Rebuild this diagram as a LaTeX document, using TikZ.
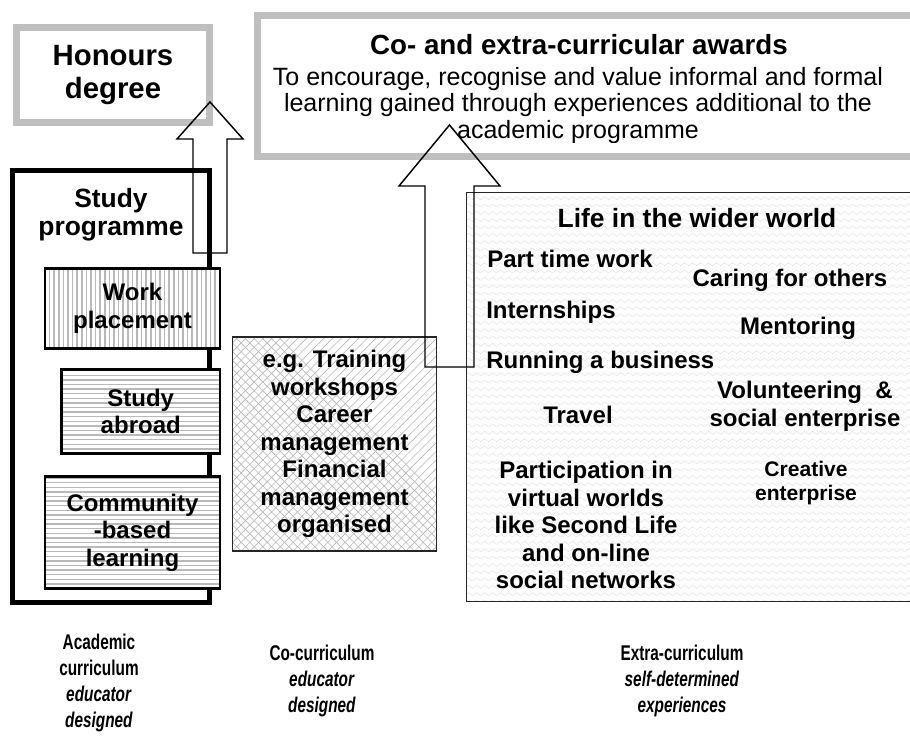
\documentclass[tikz,border=0pt]{standalone}
\usepackage{fontspec}
\setmainfont{Liberation Sans}
\newfontfamily\narrowsans[FakeStretch=0.72]{Liberation Sans}
\usetikzlibrary{decorations.pathmorphing}

\newcommand{\bodyfont}{\fontsize{18}{20.6}\selectfont\bfseries}
\newcommand{\headfont}{\fontsize{19.8}{21}\selectfont\bfseries}
\newcommand{\curricfont}{\narrowsans\fontsize{16}{19.5}\selectfont\bfseries}

\begin{document}
\begin{tikzpicture}[
    x=0.75pt, y=-0.75pt,
    frame/.style={draw=gray!50, line width=5.25pt, inner sep=0pt, align=center},
    progbox/.style={draw=black, line width=3.75pt, inner sep=0pt},
    placebox/.style={draw=black, line width=2pt, fill=white, inner sep=0pt, align=center, font=\bodyfont},
    vstripes/.style={path picture={
        \coordinate (pa) at (path picture bounding box.south west);
        \foreach \i in {0,...,45}
            \draw[gray!55, line width=1.1pt] ([xshift=\i*3.45pt]pa) -- ++(0pt,200pt);
    }},
    hstripes/.style={path picture={
        \coordinate (pa) at (path picture bounding box.south west);
        \foreach \i in {0,...,40}
            \draw[gray!55, line width=1.1pt] ([yshift=\i*3.45pt]pa) -- ++(200pt,0pt);
    }},
    hatched/.style={path picture={
        \coordinate (pa) at (path picture bounding box.south west);
        \foreach \i in {-30,...,30} {
            \draw[gray!55, line width=0.45pt] ([xshift=\i*6.5pt]pa) -- ++(200pt,200pt);
            \draw[gray!55, line width=0.45pt] ([xshift=\i*6.5pt]pa) -- ++(-200pt,200pt);
        }
    }},
    wavy/.style={path picture={
        \coordinate (pa) at (path picture bounding box.south west);
        \foreach \i in {0,...,60}
            \draw[gray!20, line width=0.4pt, decorate,
                  decoration={zigzag, segment length=6pt, amplitude=1.2pt}]
                ([yshift=\i*5.5pt]pa) -- ++(360pt,0pt);
    }},
    item/.style={font=\bodyfont, inner sep=0pt, align=center},
    curric/.style={font=\curricfont, inner sep=0pt, align=center, anchor=north},
    blockarrow/.style={draw=black, line width=1.1pt, line join=miter}
]
\useasboundingbox (0,0) rectangle (910,738);

% Awards on top
\node[frame, minimum width=144.75pt, minimum height=71.25pt,
      font=\fontsize{22}{24.75}\selectfont\bfseries] (honours) at (113,75) {Honours\\degree};
\node[frame, minimum width=497.25pt, minimum height=105.75pt] (awards) at (588.5,86) {};
\node[font=\fontsize{20.8}{22}\selectfont\bfseries, inner sep=0pt, anchor=base] (awardstitle) at (579,55)
    {Co- and extra-curricular awards};
\begin{scope}
    \clip (260,19) rectangle (910,143);
    \node[font=\fontsize{18.75}{19.9}\selectfont, inner sep=0pt, align=center, anchor=north] (awardsnote) at (578,67)
        {To encourage, recognise and value informal and formal\\
         learning gained through experiences additional to the\\
         academic programme};
\end{scope}

% Academic curriculum
\node[progbox, minimum width=147.75pt, minimum height=324pt] (studyprog) at (111,386.5) {};
\node[font=\headfont, inner sep=0pt, align=center, anchor=north] (studytitle) at (111,188) {Study\\programme};
\node[placebox, vstripes, minimum width=131.25pt, minimum height=60pt] (work) at (132.5,308.5) {Work\\placement};
\node[placebox, hstripes, minimum width=118.9pt, minimum height=63pt] (abroad) at (140.75,411.5) {Study\\abroad};
\node[placebox, hstripes, minimum width=131.25pt, minimum height=84pt] (community) at (132.5,532.5) {Community\\-based\\learning};

% Co-curriculum
\node[placebox, hatched, draw=black!85, line width=1.2pt, minimum width=153pt, minimum height=160.5pt] (cocurr) at (334.5,444)
    {e.g. Training\\workshops\\Career\\management\\Financial\\management\\organised};

% Extra-curriculum
\node[draw=black!85, line width=1.2pt, fill=white, wavy, minimum width=340.1pt, minimum height=306.75pt] (wider) at (693.25,397) {};
\node[font=\headfont, inner sep=0pt, anchor=base] (widertitle) at (697,227) {Life in the wider world};
\node[item, anchor=base west] (parttime) at (487,267) {Part time work};
\node[item, anchor=base] (caring) at (790,286) {Caring for others};
\node[item, anchor=base west] (intern) at (486,318) {Internships};
\node[item, anchor=base] (mentor) at (798,334) {Mentoring};
\node[item, anchor=base west] (business) at (486,368) {Running a business};
\node[item, anchor=north] (volunteer) at (805,381) {Volunteering\ \ \&\\social enterprise};
\node[item, anchor=base] (travel) at (578,423) {Travel};
\node[item, anchor=north] (virtual) at (586,461)
    {Participation in\\virtual worlds\\like Second Life\\and on-line\\social networks};
\node[item, font=\fontsize{15.8}{18}\selectfont\bfseries, anchor=north] (creative) at (806,461) {Creative\\enterprise};

% Block arrows
\coordinate (hfoot) at (210,253);
\coordinate (htip) at (210,102);
\draw[blockarrow] (hfoot) -- ++(-17,0) -- ++(0,-114) -- ++(-16,0) -- (htip)
    -- ++(33,37) -- ++(-16,0) -- ++(0,114) -- cycle;
\coordinate (afoot) at (449.5,367);
\coordinate (atip) at (449.5,125);
\draw[blockarrow] (afoot) -- ++(-24.5,0) -- ++(0,-181) -- ++(-26,0) -- (atip)
    -- ++(50.5,61) -- ++(-26,0) -- ++(0,181) -- cycle;

% Column captions
\node[curric] (academic) at (99,634) {Academic\\curriculum\\\textit{educator}\\\textit{designed}};
\node[curric] (cocurric) at (322,645) {Co-curriculum\\\textit{educator}\\\textit{designed}};
\node[curric] (extracurric) at (682,645) {Extra-curriculum\\\textit{self-determined}\\\textit{experiences}};
\end{tikzpicture}
\end{document}
